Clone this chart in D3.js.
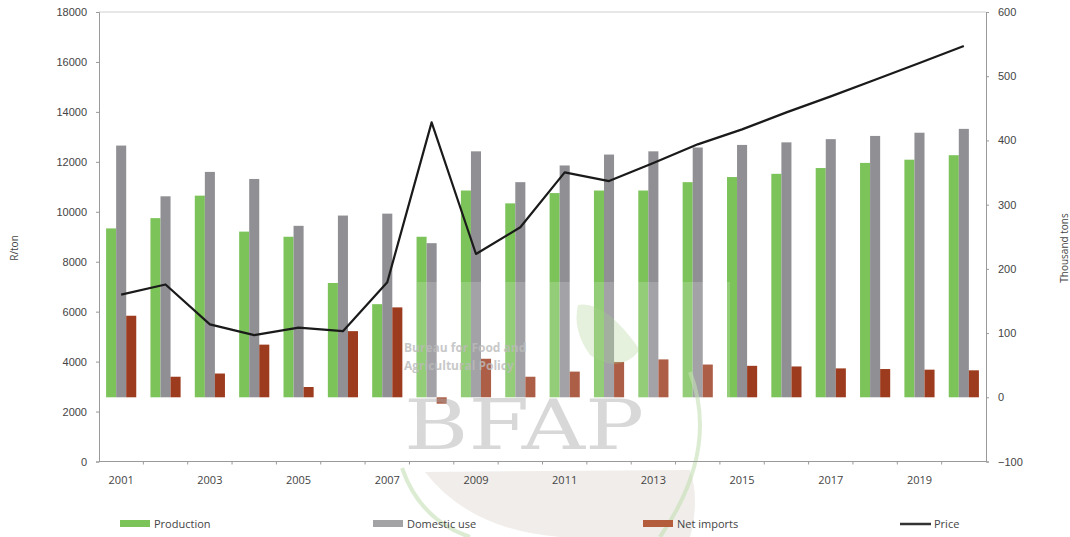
<!DOCTYPE html>
<html>
<head>
<meta charset="utf-8">
<script src="https://cdn.jsdelivr.net/npm/d3@7"></script>
<style>
  body { margin: 0; background: #fff; }
  svg { font-family: "Open Sans", "Liberation Sans", sans-serif; }
</style>
</head>
<body>
<div id="chart"></div>
<script>
// data
const years = d3.range(2001, 2021).map(String);
const production = [263, 279, 314, 258, 250, 178, 145, 250, 322, 302, 318, 322, 322, 335, 343, 348, 357, 365, 370, 377];
const domesticUse = [392, 313, 351, 340, 267, 283, 286, 240, 383, 335, 361, 378, 383, 389, 393, 397, 402, 407, 412, 418];
const netImports = [127, 32, 37, 82, 16, 103, 140, -10, 60, 32, 40, 55, 59, 51, 49, 48, 45, 44, 43, 42];
const price = [6680, 7090, 5490, 5060, 5360, 5220, 7180, 13580, 8310, 9380, 11580, 11230, 11950, 12700, 13300, 13980, 14620, 15290, 15960, 16640];
const seriesNames = ["Production", "Domestic use", "Net imports"];
const leftTicks = d3.range(0, 18001, 2000);
const rightTicks = d3.range(-100, 601, 100);
const xLabels = years.filter((d, i) => i % 2 === 0);

const width = 1070, height = 537;
const margin = { top: 12, right: 84, bottom: 75.5, left: 99 };
const colors = { "Production": "#7cc35a", "Domestic use": "#8f8f94", "Net imports": "#9c3b1e", "Price": "#1a1a1a" };

const svg = d3.select("#chart").append("svg")
  .attr("width", width)
  .attr("height", height);

const x0 = d3.scaleBand()
  .domain(years)
  .range([margin.left, width - margin.right])
  .paddingInner(0.32)
  .paddingOuter(0.16);

const x1 = d3.scaleBand()
  .domain(seriesNames)
  .range([0, x0.bandwidth()]);

const yLeft = d3.scaleLinear().domain([0, 18000]).range([height - margin.bottom, margin.top]);
const yRight = d3.scaleLinear().domain([-100, 600]).range([height - margin.bottom, margin.top]);

// bars
const rows = years.map((y, i) => ({
  year: y,
  values: [
    { key: "Production", v: production[i] },
    { key: "Domestic use", v: domesticUse[i] },
    { key: "Net imports", v: netImports[i] }
  ]
}));

const groups = svg.append("g").selectAll("g")
  .data(rows)
  .join("g")
  .attr("transform", d => `translate(${x0(d.year)},0)`);

groups.selectAll("rect")
  .data(d => d.values)
  .join("rect")
  .attr("x", d => x1(d.key))
  .attr("width", x1.bandwidth())
  .attr("y", d => yRight(Math.max(0, d.v)))
  .attr("height", d => Math.abs(yRight(d.v) - yRight(0)))
  .attr("fill", d => colors[d.key]);

// price line
const line = d3.line()
  .x((d, i) => x0(years[i]) + x0.bandwidth() / 2)
  .y(d => yLeft(d));

svg.append("path")
  .datum(price)
  .attr("d", line)
  .attr("fill", "none")
  .attr("stroke", colors.Price)
  .attr("stroke-width", 2.2)
  .attr("stroke-linejoin", "round");

// watermark (faint logo over the middle of the chart)
const wm = svg.append("g").attr("pointer-events", "none");
wm.append("rect")
  .attr("x", 417).attr("y", 282).attr("width", 313).attr("height", 255)
  .attr("fill", "#fff").attr("opacity", 0.18);
wm.append("path")
  .attr("d", "M425,472 Q470,530 560,537 L690,537 Q700,500 690,470 Z")
  .attr("fill", "#ddd6d0").attr("opacity", 0.45);
wm.append("path")
  .attr("d", "M402,468 Q420,520 470,537")
  .attr("fill", "none").attr("stroke", "#c4e0b4").attr("stroke-width", 4).attr("opacity", 0.6);
wm.append("path")
  .attr("d", "M690,372 Q720,450 660,537")
  .attr("fill", "none").attr("stroke", "#c4e0b4").attr("stroke-width", 4).attr("opacity", 0.6);
wm.append("path")
  .attr("d", "M578,305 Q605,300 640,350 Q620,375 590,355 Q572,330 578,305 Z")
  .attr("fill", "#a8d08f").attr("opacity", 0.3);
wm.append("text")
  .attr("x", 404).attr("y", 352)
  .attr("font-size", 12).attr("font-weight", "bold")
  .attr("fill", "#bbb").attr("opacity", 0.8)
  .text("Bureau for Food and");
wm.append("text")
  .attr("x", 404).attr("y", 370)
  .attr("font-size", 12).attr("font-weight", "bold")
  .attr("fill", "#bbb").attr("opacity", 0.8)
  .text("Agricultural Policy");
wm.append("text")
  .attr("x", 404).attr("y", 449)
  .style("font-family", "'DejaVu Serif', 'Liberation Serif', serif")
  .attr("font-size", 70)
  .attr("textLength", 240)
  .attr("lengthAdjust", "spacingAndGlyphs")
  .attr("fill", "#aaa").attr("opacity", 0.45)
  .text("BFAP");

// top border
svg.append("line")
  .attr("x1", margin.left).attr("x2", width - margin.right)
  .attr("y1", margin.top).attr("y2", margin.top)
  .attr("stroke", "#d0d0d0");

// left axis
const axL = svg.append("g")
  .attr("transform", `translate(${margin.left},0)`)
  .call(d3.axisLeft(yLeft).tickValues(leftTicks).tickFormat(d3.format("d")).tickSize(3).tickPadding(9));
axL.select(".domain").attr("stroke", "#9a9a9a");
axL.selectAll(".tick line").attr("stroke", "#9a9a9a");
axL.selectAll("text").attr("font-size", 11).attr("fill", "#444");

// right axis
const axR = svg.append("g")
  .attr("transform", `translate(${width - margin.right},0)`)
  .call(d3.axisRight(yRight).tickValues(rightTicks).tickFormat(d3.format("d")).tickSize(3).tickPadding(9));
axR.select(".domain").attr("stroke", "#9a9a9a");
axR.selectAll(".tick line").attr("stroke", "#9a9a9a");
axR.selectAll("text").attr("font-size", 11).attr("fill", "#444");

// bottom axis
const baseY = height - margin.bottom;
svg.append("line")
  .attr("x1", margin.left).attr("x2", width - margin.right)
  .attr("y1", baseY).attr("y2", baseY)
  .attr("stroke", "#9a9a9a");
svg.append("g").selectAll("line")
  .data(years.slice(1))
  .join("line")
  .attr("x1", d => x0(d) - x0.step() * x0.paddingInner() / 2)
  .attr("x2", d => x0(d) - x0.step() * x0.paddingInner() / 2)
  .attr("y1", baseY).attr("y2", baseY + 3)
  .attr("stroke", "#9a9a9a");
svg.append("g").selectAll("text")
  .data(xLabels)
  .join("text")
  .attr("x", d => x0(d) + x0.bandwidth() / 2)
  .attr("y", baseY + 22)
  .attr("text-anchor", "middle")
  .attr("font-size", 11)
  .attr("fill", "#444")
  .text(d => d);

// axis titles
svg.append("text")
  .attr("transform", `translate(18,248) rotate(-90)`)
  .attr("text-anchor", "middle")
  .attr("font-size", 10)
  .attr("fill", "#444")
  .text("R/ton");
svg.append("text")
  .attr("transform", `translate(1068,248) rotate(-90)`)
  .attr("text-anchor", "middle")
  .attr("font-size", 10)
  .attr("fill", "#444")
  .text("Thousand tons");

// legend
const legendItems = [
  { key: "Production", x: 120, type: "rect", fill: "#7cc35a" },
  { key: "Domestic use", x: 373, type: "rect", fill: "#a3a3a6" },
  { key: "Net imports", x: 643, type: "rect", fill: "#b35d3c" },
  { key: "Price", x: 900, type: "line", fill: "#333" }
];
const lg = svg.append("g").selectAll("g")
  .data(legendItems)
  .join("g")
  .attr("transform", d => `translate(${d.x},524)`);
lg.filter(d => d.type === "rect").append("rect")
  .attr("x", 0).attr("y", -4).attr("width", 30).attr("height", 7)
  .attr("fill", d => d.fill);
lg.filter(d => d.type === "line").append("line")
  .attr("x1", 0).attr("x2", 31).attr("y1", 0).attr("y2", 0)
  .attr("stroke", d => d.fill).attr("stroke-width", 2.5);
lg.append("text")
  .attr("x", 34).attr("y", 4)
  .attr("font-size", 11)
  .attr("fill", "#444")
  .text(d => d.key);
</script>
</body>
</html>
